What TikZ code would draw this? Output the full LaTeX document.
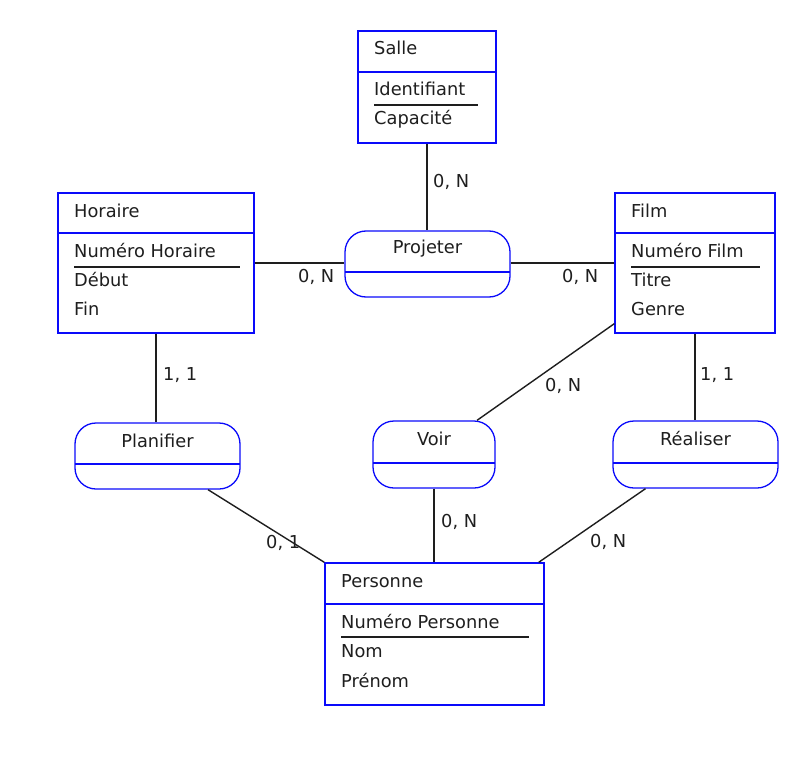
\documentclass[tikz,border=0pt]{standalone}
\usepackage{fontspec}
\setmainfont{DejaVu Sans}
\usetikzlibrary{calc}
\definecolor{erblue}{RGB}{10,10,250}
\definecolor{ink}{RGB}{30,30,30}
\tikzset{
  ent/.style={draw=erblue, line width=1.3pt, rectangle, inner sep=0pt},
  rel/.style={draw=erblue, line width=1.3pt, rectangle, rounded corners=21pt, inner sep=0pt},
  sep/.style={draw=erblue, line width=1.3pt},
  ul/.style={draw=ink, line width=1.4pt},
  conn/.style={draw=ink, line width=1.4pt},
  txt/.style={anchor=base west, inner sep=0pt, text=ink, font=\fontsize{17.8}{21}\selectfont},
  ctxt/.style={anchor=base, inner sep=0pt, text=ink, font=\fontsize{17.8}{21}\selectfont},
  lab/.style={anchor=base west, inner sep=0pt, text=ink, font=\fontsize{17.8}{21}\selectfont},
}
\begin{document}
\begin{tikzpicture}[x=1pt,y=-1pt]
\useasboundingbox (0,0) rectangle (810,770);

% Entities
\node[ent, minimum width=138pt, minimum height=112pt] (salle) at (427,87) {};
\draw[sep] (358,72) -- (496,72);
\node[txt] (salleT) at (374,55) {Salle};
\node[txt] (salleA1) at (374,96) {Identifiant};
\draw[ul] (374,105) -- (478,105);
\node[txt] (salleA2) at (374,125) {Capacité};

\node[ent, minimum width=196pt, minimum height=140pt] (hor) at (156,263) {};
\draw[sep] (58,233) -- (254,233);
\node[txt] (horT) at (74,217) {Horaire};
\node[txt] (horA1) at (74,257) {Numéro Horaire};
\draw[ul] (74,267) -- (240,267);
\node[txt] (horA2) at (74,286) {Début};
\node[txt] (horA3) at (74,315) {Fin};

\node[ent, minimum width=160pt, minimum height=140pt] (film) at (695,263) {};
\draw[sep] (615,233) -- (775,233);
\node[txt] (filmT) at (631,217) {Film};
\node[txt] (filmA1) at (631,257) {Numéro Film};
\draw[ul] (631,267) -- (760,267);
\node[txt] (filmA2) at (631,286) {Titre};
\node[txt] (filmA3) at (631,315) {Genre};

\node[ent, minimum width=219pt, minimum height=142pt] (pers) at (434.5,634) {};
\draw[sep] (325,604) -- (544,604);
\node[txt] (persT) at (341,587) {Personne};
\node[txt] (persA1) at (341,628) {Numéro Personne};
\draw[ul] (341,637) -- (529,637);
\node[txt] (persA2) at (341,657) {Nom};
\node[txt] (persA3) at (341,687) {Prénom};

% Relations
\node[rel, minimum width=165pt, minimum height=66pt] (proj) at (427.5,264) {};
\draw[sep] (345,272) -- (510,272);
\node[ctxt] (projT) at (427.5,253) {Projeter};

\node[rel, minimum width=165pt, minimum height=66pt] (plan) at (157.5,456) {};
\draw[sep] (75,464) -- (240,464);
\node[ctxt] (planT) at (157.5,447) {Planifier};

\node[rel, minimum width=122pt, minimum height=67pt] (voir) at (434,454.5) {};
\draw[sep] (373,463) -- (495,463);
\node[ctxt] (voirT) at (434,445) {Voir};

\node[rel, minimum width=165pt, minimum height=67pt] (real) at (695.5,454.5) {};
\draw[sep] (613,463) -- (778,463);
\node[ctxt] (realT) at (695.5,445) {Réaliser};

% Connectors
\draw[conn] (salle.south) -- (salle.south |- proj.north);
\draw[conn] (hor.east) -- (hor.east -| proj.west);
\draw[conn] (proj.east |- film.west) -- (film.west);
\draw[conn] (hor.south) -- (hor.south |- plan.north);
\draw[conn] ($(plan.south)+(50.5,0)$) -- (pers.north west);
\draw[conn] ($(film.south west)+(0,-10)$) -- ($(voir.north)+(43,0)$);
\draw[conn] (voir.south) -- (voir.south |- pers.north);
\draw[conn] (film.south) -- (film.south |- real.north);
\draw[conn] ($(real.south)+(-50,0)$) -- ($(pers.north east)+(-6,0)$);

% Cardinalities
\node[lab] (c1) at (433,187) {0, N};
\node[lab] (c2) at (298,282) {0, N};
\node[lab] (c3) at (562,282) {0, N};
\node[lab] (c4) at (163,380) {1, 1};
\node[lab] (c5) at (700,380) {1, 1};
\node[lab] (c6) at (545,391) {0, N};
\node[lab] (c7) at (441,527) {0, N};
\node[lab] (c8) at (266,548) {0, 1};
\node[lab] (c9) at (590,547) {0, N};
\end{tikzpicture}
\end{document}
